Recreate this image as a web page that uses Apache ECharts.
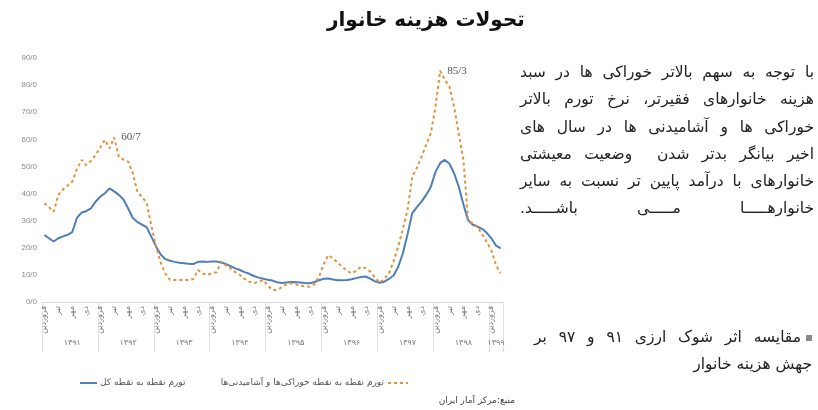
<!DOCTYPE html>
<html>
<head>
<meta charset="utf-8">
<script src="https://cdn.jsdelivr.net/npm/echarts@6/dist/echarts.min.js"></script>
<style>
  html, body { margin:0; padding:0; background:#fff; }
  #wrap { position:relative; width:818px; height:410px; overflow:hidden; }
  #chart { position:absolute; left:0; top:0; width:818px; height:410px; }
  .para { position:absolute; direction:rtl; font-family:"DejaVu Sans", sans-serif; color:#222; font-size:15.5px; }
  .para div { height:27.3px; line-height:27.3px; text-align:justify; text-align-last:justify; white-space:nowrap; overflow:visible; }
  .bul { display:inline-block; width:6px; height:6px; background:#8a8a8a; margin-left:5px; vertical-align:middle; }
</style>
</head>
<body>
<div id="wrap">
  <div id="chart"></div>
  <div class="para" style="right:4px; top:59px; width:294px;">
    <div>با توجه به سهم بالاتر خوراکی ها در سبد</div>
    <div>هزینه خانوارهای فقیرتر، نرخ تورم بالاتر</div>
    <div>خوراکی ها و آشامیدنی ها در سال های</div>
    <div>اخیر بیانگر بدتر شدن&nbsp; وضعیت معیشتی</div>
    <div>خانوارهای با درآمد پایین تر نسبت به سایر</div>
    <div>خانوارهـــــا مـــــی باشـــــد.</div>
  </div>
  <div class="para" style="right:6px; top:324px; width:278px;">
    <div><span class="bul"></span>مقایسه اثر شوک ارزی ۹۱ و ۹۷ بر</div>
    <div style="text-align:right; text-align-last:right;">جهش هزینه خانوار</div>
  </div>
</div>
<script>
const years = ['۱۳۹۱','۱۳۹۲','۱۳۹۳','۱۳۹۴','۱۳۹۵','۱۳۹۶','۱۳۹۷','۱۳۹۸','۱۳۹۹'];
const months = ['فروردین','اردیبهشت','خرداد','تیر','مرداد','شهریور','مهر','آبان','آذر','دی','بهمن','اسفند'];

// تورم نقطه به نقطه کل
const total = [
  24.7, 23.5, 22.3, 23.5, 24.2, 24.8, 25.8, 31.0, 33.0, 33.5, 34.5, 37.0,
  38.8, 40.1, 41.9, 40.8, 39.5, 37.8, 34.5, 31.0, 29.5, 28.5, 27.5, 24.0,
  20.4, 17.5, 15.8, 15.2, 14.8, 14.5, 14.3, 14.1, 14.0, 14.8, 14.9, 14.8,
  14.9, 14.9, 14.6, 14.0, 13.2, 12.4, 11.8, 11.0, 10.4, 9.6, 9.0, 8.6,
  8.2, 7.9, 7.3, 7.0, 7.2, 7.4, 7.3, 7.2, 7.0, 6.9, 7.4, 8.0,
  8.6, 8.7, 8.3, 8.0, 8.0, 8.1, 8.4, 8.8, 9.2, 9.4, 8.6, 7.6,
  7.1, 7.5, 8.5, 9.8, 13.0, 18.0, 25.0, 32.7, 35.0, 37.0, 39.5, 42.5,
  48.0, 51.2, 52.4, 51.0, 47.5, 42.5, 36.0, 30.2, 28.5, 27.8, 27.0, 25.5,
  23.5, 20.8, 19.8
];
// تورم نقطه به نقطه خوراکی‌ها و آشامیدنی‌ها
const food = [
  36.4, 35.0, 33.3, 39.5, 41.5, 43.0, 44.4, 49.0, 52.4, 50.5, 52.0, 54.2,
  57.0, 59.8, 56.7, 60.7, 53.6, 52.5, 51.8, 47.5, 40.5, 38.8, 36.4, 28.0,
  20.4, 14.5, 10.5, 8.1, 8.1, 8.1, 8.1, 8.1, 8.5, 11.8, 10.5, 10.0,
  10.6, 11.0, 14.9, 13.5, 12.4, 11.0, 10.0, 8.5, 7.5, 6.9, 7.5, 8.1,
  6.0, 4.4, 4.4, 5.5, 6.5, 6.9, 6.5, 6.0, 5.8, 5.6, 6.5, 9.3,
  14.0, 17.3, 16.1, 14.5, 13.0, 11.5, 10.6, 11.5, 13.0, 12.5, 11.2, 9.0,
  7.1, 8.5, 10.6, 15.0, 20.4, 27.0, 33.9, 46.2, 49.5, 53.6, 58.0, 62.2,
  72.0, 85.3, 82.0, 79.4, 72.0, 62.0, 52.4, 30.2, 29.0, 27.8, 25.0, 22.2,
  19.0, 13.5, 10.6
];
const annotated = [15, 85];
const yTicks = [0, 10, 20, 30, 40, 50, 60, 70, 80, 90];

const seriesNames = ['تورم نقطه به نقطه کل', 'تورم نقطه به نقطه خوراکی‌ها و آشامیدنی‌ها'];
const title = 'تحولات هزینه خانوار';
const source = 'منبع:مرکز آمار ایران';

const categories = total.map((_, i) => months[i % 12] + ' ' + years[Math.floor(i / 12)]);
const fa = '"DejaVu Sans", sans-serif';
const BLUE = '#4f7fb8';
const ORANGE = '#e3913a';

const chart = echarts.init(document.getElementById('chart'), null, { renderer: 'canvas' });
chart.setOption({
  animation: false,
  backgroundColor: '#fff',
  title: {
    text: title, left: 322, top: 6,
    textStyle: { fontFamily: fa, fontWeight: 'bold', fontSize: 20, color: '#111' }
  },
  grid: { left: 42, right: 315, top: 58, bottom: 108, containLabel: false },
  xAxis: [{
    type: 'category', data: categories, boundaryGap: true,
    axisLine: { show: true, lineStyle: { color: '#d9d9d9', width: 1 } },
    axisTick: { show: false },
    axisLabel: {
      rotate: 90, fontSize: 8, color: '#777', fontFamily: fa, margin: 4,
      interval: (i) => i % 3 === 0,
      formatter: (v) => v.split(' ')[0]
    },
    splitLine: { show: false }
  }, {
    type: 'category', data: categories, boundaryGap: true, position: 'bottom',
    axisLine: { show: false },
    axisTick: { show: true, length: 50, interval: (i) => i % 12 === 0, lineStyle: { color: '#e0e0e0' } },
    axisLabel: {
      fontSize: 8, color: '#777', fontFamily: fa, margin: 37,
      interval: (i) => (i % 12 === 6) || (i === total.length - 2 && i % 12 < 6),
      formatter: (v) => v.split(' ')[1]
    },
    splitLine: { show: false }
  }],
  yAxis: {
    type: 'value', min: 0, max: 90, interval: 10,
    axisLine: { show: false }, axisTick: { show: false },
    splitLine: { show: false },
    axisLabel: { fontSize: 8, color: '#888', margin: 5, fontFamily: 'Liberation Sans, sans-serif',
      formatter: (v) => yTicks.indexOf(v) >= 0 ? v.toFixed(1).replace('.', '/') : '' }
  },
  series: [{
    name: seriesNames[0], type: 'line', data: total, xAxisIndex: 0,
    symbol: 'none', lineStyle: { color: BLUE, width: 2 }, itemStyle: { color: BLUE }, z: 2
  }, {
    name: seriesNames[1], type: 'line', data: food, xAxisIndex: 0,
    symbol: 'none',
    lineStyle: { color: ORANGE, width: 2, type: [3, 3] }, itemStyle: { color: ORANGE }, z: 3,
    markPoint: {
      symbol: 'circle', symbolSize: 2,
      itemStyle: { color: 'rgba(0,0,0,0)' },
      label: { show: true, position: 'right', distance: 6, color: '#555', fontSize: 11,
               fontFamily: 'Liberation Serif, serif',
               formatter: (p) => String(p.value).replace('.', '/') },
      data: annotated.map((i) => ({ coord: [i, food[i]], value: food[i] }))
    }
  }],
  graphic: [
    { type: 'line', shape: { x1: 80, y1: 383, x2: 97, y2: 383 }, style: { stroke: BLUE, lineWidth: 2 } },
    { type: 'text', x: 100, y: 383, style: { text: seriesNames[0], align: 'left', textAlign: 'left', verticalAlign: 'middle', textVerticalAlign: 'middle', fontSize: 9, fill: '#555', fontFamily: fa } },
    { type: 'text', x: 384, y: 383, style: { text: seriesNames[1], align: 'right', textAlign: 'right', verticalAlign: 'middle', textVerticalAlign: 'middle', fontSize: 9, fill: '#555', fontFamily: fa } },
    { type: 'line', shape: { x1: 388, y1: 383, x2: 408, y2: 383 }, style: { stroke: ORANGE, lineWidth: 2, lineDash: [3, 3] } },
    { type: 'text', x: 515, y: 401, style: { text: source, align: 'right', textAlign: 'right', verticalAlign: 'middle', textVerticalAlign: 'middle', fontSize: 9, fill: '#444', fontFamily: fa } }
  ]
});
</script>
</body>
</html>
